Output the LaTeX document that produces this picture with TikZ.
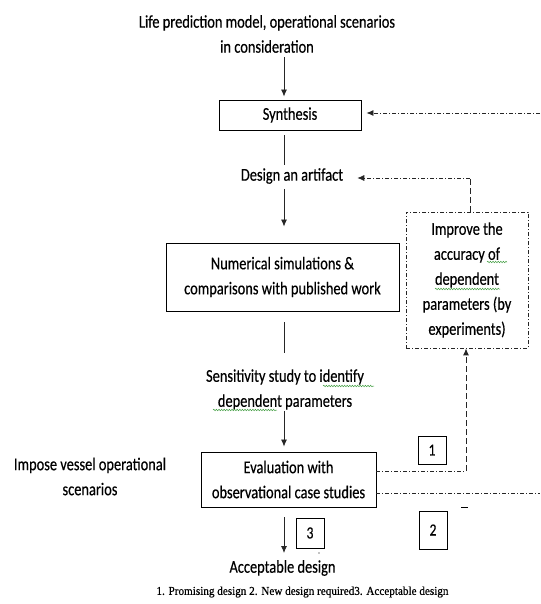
\documentclass[tikz,border=0pt]{standalone}
\usepackage{fontspec}
\setmainfont{Carlito}[FakeStretch=0.8,FakeBold=0.4]
\newfontfamily\capfont{Liberation Serif}[FakeStretch=0.93,FakeBold=0.6]
\usetikzlibrary{arrows.meta,decorations.pathmorphing}
\definecolor{squig}{RGB}{70,160,70}
\begin{document}
\begin{tikzpicture}[x=1pt,y=-1pt,
  txt/.style={align=center,inner sep=0pt,font=\fontsize{18}{25}\selectfont},
  box/.style={draw,line width=0.9pt,align=center,inner sep=0pt,font=\fontsize{18}{25}\selectfont},
  numbox/.style={draw,line width=0.9pt,inner sep=0pt,minimum width=28pt,font=\fontsize{17}{20}\selectfont},
  link/.style={line width=0.8pt,draw=black!85},
  tip/.style={-{Latex[length=7pt,width=6pt]}},
  dd/.style={line width=0.8pt,draw=black!85,dash pattern=on 4pt off 2pt on 1pt off 2pt},
  dsh/.style={line width=1pt,draw=black!85,dash pattern=on 6pt off 3pt},
  squiggle/.style={draw=squig,line width=0.5pt,decorate,decoration={snake,amplitude=0.8pt,segment length=2.6pt}}
]
\useasboundingbox (0,0) rectangle (540,604);

% main column of steps
\coordinate (spine) at (284,0);
\node[txt] (input) at (267,34) {Life prediction model, operational scenarios\\in consideration};
\node[box,minimum width=142pt,minimum height=30pt] (synth) at (290,115) {Synthesis};
\node[txt] (design) at (292,176) {Design an artifact};
\node[box,minimum width=233pt,minimum height=68pt] (num) at (282.5,277) {Numerical simulations \&\\comparisons with published work};
\node[txt] (sens) at (285,389.5) {Sensitivity study to identify\\dependent parameters};
\node[box,minimum width=175pt,minimum height=55pt] (eval) at (288.5,479.5) {Evaluation with\\observational case studies};
\node[txt] (accept) at (282.5,568) {Acceptable design};
\node[txt] (impose) at (90,476.5) {Impose vessel operational\\scenarios};
\node[box,dd,minimum width=122pt,minimum height=136pt] (improve) at (467,280) {Improve the\\accuracy of\\dependent\\parameters (by\\experiments)};

% outcome labels
\node[numbox,minimum height=28pt] (o1) at (432,450) {1};
\node[numbox,minimum height=38pt] (o2) at (433,530) {2};
\node[numbox,minimum height=30pt] (o3) at (310,533) {3};

\node[inner sep=0pt,font=\capfont\fontsize{12}{14}\selectfont] (legend) at (302.5,592) {1. Promising design 2. New design required3. Acceptable design};

% forward flow
\draw[link,tip,shorten <=4pt,shorten >=3pt] (input.south -| spine) -- (synth.north -| spine);
\draw[link,shorten <=5pt,shorten >=3pt] (synth.south -| spine) -- (design.north -| spine);
\draw[link,tip,shorten <=5pt,shorten >=16pt] (design.south -| spine) -- (num.north -| spine);
\draw[link,shorten <=11pt,shorten >=16pt] (num.south -| spine) -- (sens.north -| spine);
\draw[link,tip,shorten <=1pt,shorten >=5pt] (sens.south -| spine) -- (eval.north -| spine);
\draw[link,tip,shorten <=10pt,shorten >=7pt] (eval.south -| spine) -- (accept.north -| spine);

% feedback loops
\coordinate (fb1) at (466,471);
\coordinate (fb2) at (540,493);
\coordinate (fb3) at (540,113);
\coordinate (fb4) at (470,178);
\draw[dd] (eval.east |- fb1) -- (fb1);
\draw[dsh,tip] (fb1) -- (improve.south -| fb1);
\draw[dd] (eval.east |- fb2) -- (fb2);
\draw[dd,tip,shorten >=5pt] (fb3) -- (synth.east |- fb3);
\draw[dsh] (improve.north -| fb4) -- (fb4);
\draw[dd,tip,shorten >=14pt] (fb4) -- (design.east |- fb4);

% stray marks
\draw[line width=0.8pt] (461,507) -- (468,507);
\fill (319,553) circle (0.6pt);

% proofing squiggles
\draw[squiggle] (487,262) -- (507,262);
\draw[squiggle] (435,289) -- (500,289);
\draw[squiggle] (323,386) -- (374,386);
\draw[squiggle] (213,410) -- (277,410);
\end{tikzpicture}
\end{document}
